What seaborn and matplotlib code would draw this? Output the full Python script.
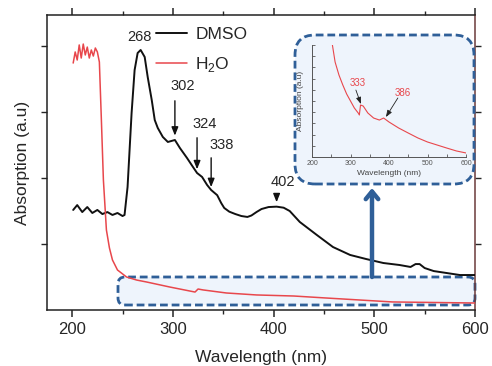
import numpy as np
import pandas as pd
import matplotlib
matplotlib.use("Agg")
import matplotlib.pyplot as plt
from matplotlib.patches import FancyBboxPatch
from matplotlib.transforms import IdentityTransform
from matplotlib.ticker import MultipleLocator
import seaborn as sns

# ---------------- data ----------------
dmso_nm = [201, 205, 210, 215, 220, 225, 230, 235, 240, 245, 250, 252, 255, 259, 262,
           265, 268, 272, 275, 279, 282, 285, 290, 295, 302, 307, 314, 320, 324, 329,
           334, 338, 344, 348, 351, 356, 362, 368, 374, 378, 383, 388, 395, 403, 410,
           416, 426, 443, 459, 476, 492, 509, 525, 536, 541, 545, 550, 559, 572, 585, 600]
dmso_abs = [0.758, 0.795, 0.742, 0.780, 0.735, 0.758, 0.727, 0.742, 0.720, 0.735, 0.712,
            0.720, 0.932, 1.492, 1.818, 1.947, 1.970, 1.917, 1.765, 1.591, 1.439, 1.379,
            1.311, 1.273, 1.288, 1.227, 1.152, 1.083, 1.038, 1.008, 0.947, 0.909, 0.870,
            0.810, 0.773, 0.745, 0.727, 0.712, 0.705, 0.716, 0.742, 0.765, 0.780, 0.783,
            0.775, 0.750, 0.667, 0.568, 0.477, 0.417, 0.386, 0.356, 0.341, 0.326, 0.348,
            0.348, 0.318, 0.295, 0.280, 0.265, 0.265]

h2o_nm = [201, 203, 205, 207, 209, 211, 213, 215, 217, 219, 221, 223, 225, 227, 229, 231,
          234, 237, 240, 245, 254, 264, 274, 297, 322, 325, 330, 353, 383, 420, 452, 518, 600]
h2o_abs = [1.871, 1.955, 1.894, 2.008, 1.909, 2.015, 1.932, 1.992, 1.909, 1.97, 1.924,
           1.985, 1.955, 1.879, 1.44, 0.985, 0.606, 0.47, 0.379, 0.303, 0.25, 0.227,
           0.212, 0.174, 0.136, 0.159, 0.152, 0.129, 0.114, 0.106, 0.091, 0.061, 0.053]

inset_nm = [253, 260, 270, 280, 290, 300, 310, 320, 323, 326, 333, 345, 360, 375, 386,
            400, 425, 450, 475, 500, 525, 550, 575, 600]
inset_abs = [1.0, 0.848, 0.732, 0.643, 0.5625, 0.5, 0.4375, 0.393, 0.375, 0.464, 0.455,
             0.393, 0.348, 0.33, 0.348, 0.3125, 0.259, 0.214, 0.17, 0.134, 0.107, 0.08,
             0.054, 0.036]

main_peaks = ["268", "302", "324", "338", "402"]
inset_peaks = ["333", "386"]
x_ticks = [200, 300, 400, 500, 600]

BLACK = "#111111"
RED = "#E8474C"
BLUE = "#2F5F98"
FILL = "#EEF4FC"

sns.set_style("ticks")
plt.rcParams["font.family"] = ["Liberation Sans", "DejaVu Sans"]
plt.rcParams["mathtext.fontset"] = "custom"
plt.rcParams["mathtext.rm"] = "Liberation Sans"

fig = plt.figure(figsize=(4.92, 3.66), dpi=100)
ax = fig.add_axes([47 / 492, 56 / 366, 428 / 492, 295 / 366])
ax.set_facecolor("white")

df_d = pd.DataFrame({"nm": dmso_nm, "abs": dmso_abs})
df_h = pd.DataFrame({"nm": h2o_nm, "abs": h2o_abs})
sns.lineplot(data=df_d, x="nm", y="abs", ax=ax, color=BLACK, lw=1.4, sort=False,
             estimator=None, label="DMSO", zorder=4)
sns.lineplot(data=df_h, x="nm", y="abs", ax=ax, color=RED, lw=1.1, sort=False,
             estimator=None, label="H$_2$O", zorder=4)
for ln in ax.lines:
    ln.set_solid_joinstyle("round")

ax.set_xlim(175, 600)
ax.set_ylim(0, 2.235)
ax.set_xticks(x_ticks)
ax.xaxis.set_minor_locator(MultipleLocator(50))
ax.set_yticks([0.5, 1.0, 1.5, 2.0])
ax.set_yticklabels([])
ax.tick_params(axis="x", which="major", labelsize=12, length=5, width=1.1, direction="out",
               top=True, pad=4)
ax.tick_params(axis="x", which="minor", length=3, width=1.0, top=True)
ax.tick_params(axis="y", which="major", length=4, width=1.0, direction="out", right=True)
ax.set_xlabel("Wavelength (nm)", fontsize=12.5, labelpad=9)
ax.set_ylabel("Absorption (a.u)", fontsize=12.5, labelpad=5)
for s in ["left", "bottom", "top"]:
    ax.spines[s].set_linewidth(1.1)
    ax.spines[s].set_color("#222222")
ax.spines["right"].set_linewidth(1.1)
ax.spines["right"].set_color("#6b3a3a")

leg = ax.legend(loc="upper left", bbox_to_anchor=(0.255, 0.96), frameon=False,
                fontsize=12.5, handlelength=1.75, handletextpad=0.5, labelspacing=0.75,
                borderpad=0, borderaxespad=0)

# peak annotations
ax.text(267, 2.07, main_peaks[0], ha="center", va="center", fontsize=10.5)
arrow_kw = dict(arrowstyle="-|>,head_length=0.5,head_width=0.2", color=BLACK, lw=1.0)
ann = [(main_peaks[1], 302, 1.606, 1.30, 310, 1.70),
       (main_peaks[2], 324, 1.326, 1.045, 332, 1.41),
       (main_peaks[3], 338, 1.174, 0.91, 348, 1.25),
       (main_peaks[4], 403, 0.886, 0.795, 409, 0.97)]
for lab, xa, y0, y1, xt, yt in ann:
    ax.annotate("", xy=(xa, y1), xytext=(xa, y0), arrowprops=arrow_kw)
    ax.text(xt, yt, lab, ha="center", va="center", fontsize=10.5)

# lower dashed box (pixel coords)
box1 = FancyBboxPatch((118, 61), 357, 28, boxstyle="round,pad=0,rounding_size=7",
                      transform=IdentityTransform(), facecolor=FILL, edgecolor=BLUE,
                      lw=2.0, linestyle=(0, (2.8, 1.4)), zorder=2, clip_on=False)
ax.add_patch(box1)
# inset dashed box
box2 = FancyBboxPatch((295, 182), 179, 149, boxstyle="round,pad=0,rounding_size=20",
                      transform=IdentityTransform(), facecolor=FILL, edgecolor=BLUE,
                      lw=2.0, linestyle=(0, (2.8, 1.4)), zorder=5, clip_on=False)
ax.add_patch(box2)
# big arrow
ax.annotate("", xy=(372, 178), xytext=(372, 89), xycoords="figure pixels",
            textcoords="figure pixels",
            arrowprops=dict(arrowstyle="->,head_length=0.55,head_width=0.45", lw=3.2,
                            color=BLUE, shrinkA=0, shrinkB=0), zorder=6)

# inset axes
axi = fig.add_axes([312 / 492, 209 / 366, 154 / 492, 112 / 366])
axi.set_facecolor("none")
df_i = pd.DataFrame({"nm": inset_nm, "abs": inset_abs})
sns.lineplot(data=df_i, x="nm", y="abs", ax=axi, color=RED, lw=0.8, sort=False,
             estimator=None)
axi.set_xlim(200, 600)
axi.set_ylim(0, 1.0)
axi.set_xticks(x_ticks)
axi.xaxis.set_minor_locator(MultipleLocator(50))
axi.yaxis.set_major_locator(MultipleLocator(0.1))
axi.set_yticklabels([])
axi.tick_params(axis="x", which="both", labelsize=5, length=2, width=0.6, direction="in",
                colors="#555555", pad=2)
axi.tick_params(axis="y", which="both", length=2, width=0.6, direction="in", colors="#555555")
axi.set_xlabel("Wavelength (nm)", fontsize=6, color="#444444", labelpad=2)
axi.set_ylabel("Absorption (a.u)", fontsize=6, color="#444444", labelpad=2)
for s in ["top", "right"]:
    axi.spines[s].set_visible(False)
for s in ["left", "bottom"]:
    axi.spines[s].set_linewidth(0.7)
    axi.spines[s].set_color("#555555")

iarrow = dict(arrowstyle="-|>,head_length=0.4,head_width=0.15", color="#222222", lw=0.6,
              shrinkA=0, shrinkB=0)
axi.annotate("", xy=(327, 0.473), xytext=(314, 0.598), arrowprops=iarrow)
axi.text(319.5, 0.66, inset_peaks[0], ha="center", va="center", fontsize=7, color=RED)
axi.annotate("", xy=(392, 0.357), xytext=(423, 0.527), arrowprops=iarrow)
axi.text(436, 0.571, inset_peaks[1], ha="center", va="center", fontsize=7, color=RED)

fig.savefig("out.png", dpi=100)
